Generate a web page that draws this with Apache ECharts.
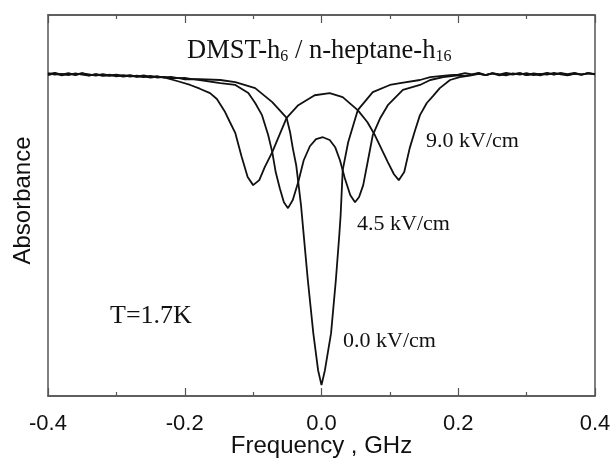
<!DOCTYPE html>
<html><head><meta charset="utf-8">
<script src="https://cdn.jsdelivr.net/npm/echarts@6/dist/echarts.min.js"></script>
<style>html,body{margin:0;padding:0;background:#fff}#c{width:612px;height:461px}</style>
</head><body><div id="c"></div>
<script>
// Frequency (GHz) vs relative absorbance signal (baseline = 0, deepest dip = -1)
const field00 = [
[-0.40,0.000],[-0.39,0.004],[-0.38,-0.002],[-0.37,0.003],[-0.36,-0.003],[-0.35,0.002],[-0.34,-0.001],[-0.33,-0.005],[-0.32,0.000],[-0.31,-0.004],[-0.30,-0.002],[-0.29,-0.006],[-0.28,-0.003],[-0.27,-0.008],[-0.26,-0.004],[-0.25,-0.009],[-0.24,-0.007],[-0.23,-0.011],[-0.22,-0.009],[-0.21,-0.013],[-0.20,-0.012],[-0.19,-0.016],
[-0.178,-0.016],[-0.148,-0.019],[-0.126,-0.026],[-0.097,-0.045],[-0.072,-0.090],[-0.051,-0.141],[-0.046,-0.186],[-0.042,-0.238],[-0.037,-0.293],[-0.034,-0.347],[-0.030,-0.421],[-0.026,-0.518],[-0.020,-0.662],[-0.012,-0.833],[-0.005,-0.952],[0.000,-1.000],[0.005,-0.952],[0.014,-0.833],[0.021,-0.662],[0.026,-0.518],[0.028,-0.453],[0.031,-0.309],[0.039,-0.219],[0.053,-0.116],[0.075,-0.058],[0.100,-0.035],[0.115,-0.029],[0.144,-0.019],[0.159,-0.010],[0.188,-0.003],
[0.20,-0.002],[0.21,0.003],[0.22,-0.001],[0.23,0.004],[0.24,-0.003],[0.25,0.002],[0.26,-0.002],[0.27,0.004],[0.28,0.000],[0.29,0.003],[0.30,-0.003],[0.31,0.002],[0.32,-0.001],[0.33,0.004],[0.34,-0.002],[0.35,0.003],[0.36,0.000],[0.37,0.004],[0.38,-0.002],[0.39,0.002],[0.40,0.001]
];
const field45 = [
[-0.40,-0.003],[-0.39,0.002],[-0.38,-0.004],[-0.37,0.001],[-0.36,-0.002],[-0.35,0.003],[-0.34,-0.004],[-0.33,-0.001],[-0.32,-0.006],[-0.31,-0.002],[-0.30,-0.007],[-0.29,-0.003],[-0.28,-0.008],[-0.27,-0.005],[-0.26,-0.010],[-0.25,-0.006],[-0.24,-0.011],[-0.23,-0.009],[-0.22,-0.014],[-0.21,-0.012],[-0.20,-0.017],[-0.19,-0.016],
[-0.178,-0.019],[-0.148,-0.029],[-0.126,-0.035],[-0.107,-0.061],[-0.097,-0.093],[-0.087,-0.132],[-0.078,-0.196],[-0.072,-0.251],[-0.067,-0.315],[-0.061,-0.367],[-0.055,-0.412],[-0.049,-0.431],[-0.042,-0.405],[-0.034,-0.347],[-0.026,-0.277],[-0.017,-0.232],[-0.008,-0.209],[0.002,-0.203],[0.012,-0.212],[0.020,-0.235],[0.027,-0.277],[0.034,-0.334],[0.042,-0.389],[0.049,-0.412],[0.055,-0.395],[0.061,-0.357],[0.068,-0.277],[0.075,-0.196],[0.086,-0.141],[0.097,-0.100],[0.119,-0.051],[0.144,-0.035],[0.159,-0.019],[0.178,-0.010],
[0.20,-0.004],[0.21,-0.006],[0.22,-0.002],[0.23,0.002],[0.24,-0.003],[0.25,0.003],[0.26,-0.001],[0.27,-0.004],[0.28,0.002],[0.29,-0.002],[0.30,0.003],[0.31,-0.003],[0.32,0.001],[0.33,-0.002],[0.34,0.004],[0.35,-0.001],[0.36,-0.004],[0.37,0.002],[0.38,-0.002],[0.39,0.003],[0.40,-0.001]
];
const field90 = [
[-0.40,0.003],[-0.39,-0.002],[-0.38,0.001],[-0.37,-0.003],[-0.36,0.002],[-0.35,-0.002],[-0.34,-0.005],[-0.33,0.000],[-0.32,-0.004],[-0.31,-0.006],[-0.30,-0.003],[-0.29,-0.008],[-0.28,-0.005],[-0.27,-0.009],[-0.26,-0.007],[-0.25,-0.011],[-0.24,-0.008],
[-0.229,-0.011],[-0.210,-0.023],[-0.192,-0.035],[-0.178,-0.047],[-0.163,-0.061],[-0.153,-0.080],[-0.141,-0.122],[-0.134,-0.154],[-0.126,-0.190],[-0.117,-0.264],[-0.108,-0.331],[-0.100,-0.357],[-0.091,-0.341],[-0.083,-0.299],[-0.072,-0.251],[-0.061,-0.193],[-0.051,-0.141],[-0.034,-0.100],[-0.010,-0.068],[0.012,-0.061],[0.031,-0.074],[0.053,-0.116],[0.067,-0.154],[0.078,-0.196],[0.097,-0.283],[0.106,-0.322],[0.113,-0.341],[0.121,-0.315],[0.129,-0.238],[0.137,-0.180],[0.144,-0.132],[0.154,-0.093],[0.163,-0.071],[0.173,-0.045],[0.188,-0.019],[0.202,-0.010],[0.217,-0.005],
[0.23,0.001],[0.24,-0.003],[0.25,0.002],[0.26,-0.004],[0.27,0.001],[0.28,-0.002],[0.29,0.003],[0.30,-0.003],[0.31,0.000],[0.32,-0.004],[0.33,0.002],[0.34,-0.001],[0.35,0.003],[0.36,-0.003],[0.37,0.001],[0.38,-0.002],[0.39,0.003],[0.40,-0.001]
];
const seriesNames = ['0.0 kV/cm', '4.5 kV/cm', '9.0 kV/cm'];
const xRange = [-0.4, 0.4];
const xStep = 0.2;
const yRange = [-1.035, 0.19];
const xTitle = 'Frequency , GHz';

const chart = echarts.init(document.getElementById('c'), null, {renderer: 'canvas'});
const serif = '"Liberation Serif", "Times New Roman", serif';
const sans = '"Liberation Sans", Arial, sans-serif';
const ink = '#111';
const frame = '#555';

function xAxisCfg(pos, showLabel) {
  return {
    type: 'value', position: pos, min: xRange[0], max: xRange[1], interval: xStep,
    axisLine: {show: true, onZero: false, lineStyle: {color: frame, width: 1.5}},
    axisTick: {show: true, inside: true, length: 8, lineStyle: {color: frame, width: 1.2}},
    minorTick: {show: true, splitNumber: 2, length: 4, lineStyle: {color: frame, width: 1.2}},
    splitLine: {show: false}, minorSplitLine: {show: false},
    axisLabel: {show: showLabel, margin: 17, fontFamily: sans, fontSize: 22, color: ink,
      formatter: v => v.toFixed(1)}
  };
}

const mkSeries = (name, data) => ({
  name, type: 'line', data, showSymbol: false, smooth: false,
  lineStyle: {color: ink, width: 1.8}, xAxisIndex: 0, yAxisIndex: 0, z: 3
});

chart.setOption({
  animation: false,
  backgroundColor: '#fff',
  grid: {left: 48, right: 17, top: 15, bottom: 65, containLabel: false, outerBoundsMode: 'none',
    show: true, borderColor: frame, borderWidth: 1.5},
  title: {
    text: '{a|DMST-h}{s|6}{a| / n-heptane-h}{s|16}',
    left: 187, top: 23, padding: 0,
    textStyle: {fontWeight: 'normal', rich: {
      a: {fontFamily: serif, fontSize: 26.5, fontWeight: 'normal', lineHeight: 42, verticalAlign: 'bottom', color: ink},
      s: {fontFamily: serif, fontSize: 16, fontWeight: 'normal', lineHeight: 15, verticalAlign: 'bottom', color: ink}
    }}
  },
  xAxis: [xAxisCfg('bottom', true), xAxisCfg('top', false)],
  yAxis: {
    type: 'value', min: yRange[0], max: yRange[1],
    axisLine: {show: false}, axisTick: {show: false}, axisLabel: {show: false}, splitLine: {show: false},
    name: 'Absorbance', nameLocation: 'middle', nameGap: 13,
    nameTextStyle: {fontFamily: sans, fontSize: 24, color: ink, padding: [0, 0, 0, 10]}
  },
  series: [mkSeries(seriesNames[0], field00), mkSeries(seriesNames[1], field45), mkSeries(seriesNames[2], field90)],
  graphic: [
    {type: 'text', x: 321.5, y: 446, style: {text: xTitle, font: '24px ' + sans, fill: ink, align: 'center', verticalAlign: 'middle'}},
    {type: 'text', x: 426, y: 141, style: {text: seriesNames[2], font: '22px ' + serif, fill: ink, align: 'left', verticalAlign: 'middle'}},
    {type: 'text', x: 357, y: 224, style: {text: seriesNames[1], font: '22px ' + serif, fill: ink, align: 'left', verticalAlign: 'middle'}},
    {type: 'text', x: 343, y: 341, style: {text: seriesNames[0], font: '22px ' + serif, fill: ink, align: 'left', verticalAlign: 'middle'}},
    {type: 'text', x: 110, y: 316, style: {text: 'T=1.7K', font: '26px ' + serif, fill: ink, align: 'left', verticalAlign: 'middle'}}
  ]
});
</script></body></html>
